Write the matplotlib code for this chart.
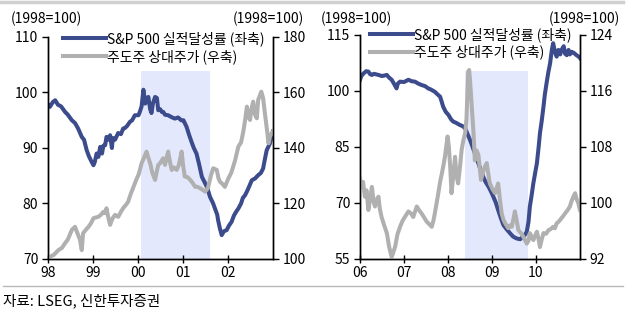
import matplotlib
matplotlib.use("Agg")
import matplotlib.pyplot as plt
from matplotlib.lines import Line2D

plt.rcParams['font.family'] = ['Noto Sans CJK KR', 'DejaVu Sans']
plt.rcParams['font.size'] = 10

# 1998~2002 (x: 연도, 1998=100)
eps98_x = [1998.01, 1998.04, 1998.11, 1998.16, 1998.22, 1998.29, 1998.38, 1998.44, 1998.53, 1998.60,
           1998.67, 1998.75, 1998.80, 1998.86, 1998.91, 1998.97, 1999.01, 1999.04, 1999.08, 1999.12,
           1999.16, 1999.20, 1999.23, 1999.27, 1999.30, 1999.34, 1999.38, 1999.42, 1999.44, 1999.49,
           1999.56, 1999.62, 1999.67, 1999.71, 1999.76, 1999.82, 1999.87, 1999.93, 2000.01, 2000.04,
           2000.08, 2000.12, 2000.16, 2000.19, 2000.23, 2000.27, 2000.30, 2000.33, 2000.38, 2000.42,
           2000.45, 2000.49, 2000.53, 2000.56, 2000.60, 2000.67, 2000.76, 2000.82, 2000.89, 2000.96,
           2001.01, 2001.08, 2001.13, 2001.19, 2001.24, 2001.30, 2001.36, 2001.42, 2001.47, 2001.53,
           2001.57, 2001.60, 2001.67, 2001.71, 2001.76, 2001.78, 2001.82, 2001.86, 2001.91, 2001.97,
           2002.02, 2002.08, 2002.13, 2002.18, 2002.23, 2002.29, 2002.33, 2002.38, 2002.44, 2002.53,
           2002.60, 2002.67, 2002.73, 2002.78, 2002.82, 2002.86, 2002.93, 2003.00]
eps98_y = [97.7, 97.4, 98.3, 98.6, 97.8, 97.5, 96.5, 96.0, 95.0, 94.5,
           93.5, 92.0, 91.5, 89.6, 88.5, 87.5, 86.9, 87.5, 89.0, 88.4,
           90.2, 89.0, 90.4, 90.5, 92.0, 91.5, 92.3, 90.0, 91.8, 91.5,
           92.7, 92.5, 93.5, 93.6, 94.0, 94.7, 95.0, 95.9, 95.9, 96.5,
           97.5, 100.5, 98.0, 99.0, 99.2, 97.0, 96.3, 98.0, 99.2, 99.0,
           96.8, 97.0, 96.5, 96.5, 96.0, 95.9, 95.5, 95.3, 95.5, 95.0,
           95.0, 93.8, 92.5, 91.1, 90.0, 89.0, 87.0, 84.8, 84.0, 83.0,
           82.0, 81.2, 80.0, 79.1, 78.0, 77.0, 75.5, 74.3, 75.0, 75.2,
           76.0, 76.7, 77.8, 78.5, 79.1, 80.0, 81.0, 81.5, 82.5, 84.2,
           84.5, 85.1, 85.5, 86.3, 88.0, 89.6, 90.8, 93.0]

lead98_x = [1998.04, 1998.13, 1998.23, 1998.31, 1998.38, 1998.44, 1998.53, 1998.60, 1998.67, 1998.71,
            1998.75, 1998.78, 1998.84, 1998.90, 1998.96, 1999.01, 1999.07, 1999.12, 1999.18, 1999.23,
            1999.27, 1999.30, 1999.34, 1999.38, 1999.43, 1999.49, 1999.56, 1999.62, 1999.67, 1999.73,
            1999.78, 1999.84, 1999.90, 1999.96, 2000.01, 2000.04, 2000.08, 2000.12, 2000.19, 2000.22,
            2000.27, 2000.32, 2000.38, 2000.41, 2000.45, 2000.49, 2000.56, 2000.60, 2000.67, 2000.71,
            2000.75, 2000.80, 2000.86, 2000.91, 2000.97, 2001.00, 2001.04, 2001.10, 2001.16, 2001.21,
            2001.27, 2001.32, 2001.38, 2001.43, 2001.49, 2001.53, 2001.56, 2001.62, 2001.67, 2001.75,
            2001.79, 2001.82, 2001.88, 2001.93, 2002.01, 2002.07, 2002.11, 2002.16, 2002.23, 2002.29,
            2002.34, 2002.38, 2002.42, 2002.46, 2002.49, 2002.52, 2002.56, 2002.60, 2002.64, 2002.67,
            2002.71, 2002.74, 2002.78, 2002.82, 2002.87, 2002.90, 2002.93, 2002.97, 2003.00]
lead98_y = [100.8, 101.5, 103.2, 104.0, 105.7, 107.0, 110.5, 111.6, 108.6, 107.0,
            103.2, 109.3, 110.5, 111.6, 113.0, 114.7, 115.0, 115.2, 116.0, 117.0,
            116.5, 118.3, 115.0, 112.3, 114.5, 115.9, 115.2, 117.0, 118.3, 119.5,
            120.6, 123.5, 126.0, 128.5, 130.3, 132.0, 134.5, 136.0, 138.7, 137.0,
            134.5, 131.0, 128.5, 131.0, 133.9, 134.5, 136.3, 133.9, 138.7, 135.0,
            132.1, 133.0, 132.1, 134.0, 138.7, 134.0, 129.7, 129.5, 128.5, 127.5,
            126.0, 126.0, 125.5, 125.0, 124.3, 125.0, 126.0, 130.0, 132.7, 132.1,
            129.0, 127.9, 127.0, 126.0, 129.1, 131.0, 133.0, 135.7, 140.5, 142.0,
            145.9, 150.0, 154.9, 151.0, 150.1, 154.0, 156.7, 152.0, 150.7, 157.3,
            159.0, 160.3, 158.0, 152.5, 146.0, 141.7, 144.0, 145.3, 146.0]

# 2006~2010
eps06_x = [2006.00, 2006.03, 2006.08, 2006.14, 2006.19, 2006.23, 2006.27, 2006.32, 2006.42, 2006.50,
           2006.61, 2006.66, 2006.72, 2006.77, 2006.83, 2006.86, 2006.91, 2007.00, 2007.10, 2007.18,
           2007.25, 2007.32, 2007.40, 2007.48, 2007.55, 2007.61, 2007.70, 2007.77, 2007.82, 2007.86,
           2007.89, 2007.95, 2008.01, 2008.07, 2008.12, 2008.18, 2008.27, 2008.33, 2008.39, 2008.44,
           2008.50, 2008.56, 2008.61, 2008.67, 2008.73, 2008.80, 2008.86, 2008.92, 2008.98, 2009.03,
           2009.09, 2009.14, 2009.20, 2009.26, 2009.33, 2009.41, 2009.48, 2009.56, 2009.64, 2009.71,
           2009.75, 2009.79, 2009.83, 2009.86, 2009.90, 2009.94, 2009.98, 2010.02, 2010.06, 2010.09,
           2010.13, 2010.17, 2010.20, 2010.24, 2010.28, 2010.32, 2010.36, 2010.39, 2010.43, 2010.47,
           2010.51, 2010.55, 2010.58, 2010.63, 2010.66, 2010.70, 2010.74, 2010.77, 2010.81, 2010.86,
           2010.92, 2010.97, 2011.00]
eps06_y = [103.0, 104.0, 104.7, 105.3, 105.2, 104.5, 104.3, 104.6, 104.3, 104.0,
           104.3, 103.6, 103.0, 102.0, 100.7, 102.0, 102.5, 102.4, 103.0, 102.6,
           102.5, 102.0, 101.6, 101.3, 100.7, 100.4, 99.8, 99.0, 98.5, 97.0,
           95.8, 94.4, 93.6, 92.4, 91.8, 91.5, 90.9, 90.6, 90.0, 88.6,
           86.9, 85.0, 83.3, 81.3, 79.3, 77.0, 75.5, 74.4, 73.0, 71.7,
           70.0, 68.1, 66.0, 64.1, 63.0, 61.9, 61.0, 60.5, 60.3, 61.0,
           61.5, 62.3, 65.0, 69.0, 72.0, 75.3, 78.0, 80.6, 85.0, 88.7,
           92.0, 95.8, 99.0, 102.1, 105.0, 107.4, 111.0, 112.8, 110.5, 109.2,
           111.0, 109.8, 111.0, 112.0, 110.0, 109.6, 111.0, 109.8, 110.5, 110.2,
           109.6, 109.2, 108.8]

lead06_x = [2006.00, 2006.04, 2006.07, 2006.11, 2006.15, 2006.19, 2006.23, 2006.27, 2006.31, 2006.34,
            2006.38, 2006.42, 2006.45, 2006.49, 2006.55, 2006.61, 2006.66, 2006.72, 2006.75, 2006.80,
            2006.85, 2006.91, 2006.97, 2007.02, 2007.10, 2007.16, 2007.21, 2007.29, 2007.34, 2007.40,
            2007.45, 2007.52, 2007.57, 2007.63, 2007.67, 2007.70, 2007.78, 2007.82, 2007.86, 2007.90,
            2007.93, 2007.97, 2007.99, 2008.02, 2008.05, 2008.08, 2008.13, 2008.16, 2008.19, 2008.23,
            2008.27, 2008.31, 2008.35, 2008.39, 2008.42, 2008.46, 2008.48, 2008.50, 2008.54, 2008.58,
            2008.61, 2008.65, 2008.69, 2008.73, 2008.75, 2008.80, 2008.84, 2008.88, 2008.92, 2008.95,
            2009.01, 2009.07, 2009.10, 2009.14, 2009.18, 2009.22, 2009.26, 2009.30, 2009.37, 2009.41,
            2009.45, 2009.49, 2009.52, 2009.56, 2009.60, 2009.66, 2009.71, 2009.75, 2009.79, 2009.83,
            2009.86, 2009.90, 2009.94, 2009.98, 2010.02, 2010.06, 2010.09, 2010.13, 2010.17, 2010.23,
            2010.28, 2010.34, 2010.39, 2010.43, 2010.47, 2010.51, 2010.55, 2010.60, 2010.66, 2010.72,
            2010.77, 2010.81, 2010.85, 2010.89, 2010.92, 2010.96, 2011.00]
lead06_y = [103.5, 102.3, 103.0, 100.9, 101.8, 99.0, 100.5, 102.3, 100.2, 99.5,
            100.5, 100.9, 99.2, 98.0, 96.8, 95.7, 93.8, 92.3, 92.8, 93.8,
            95.5, 96.6, 97.5, 98.0, 98.8, 98.5, 98.0, 99.5, 99.0, 98.5,
            98.0, 97.3, 97.0, 96.6, 97.5, 98.5, 101.4, 103.0, 104.2, 105.5,
            106.6, 108.5, 109.5, 108.0, 105.2, 101.4, 104.5, 106.6, 104.0, 102.8,
            105.0, 107.6, 109.0, 110.0, 112.0, 118.8, 119.0, 117.6, 113.8, 110.0,
            106.1, 107.5, 106.9, 104.5, 103.3, 104.5, 105.2, 105.7, 104.0, 102.8,
            102.0, 101.4, 102.0, 102.8, 100.5, 98.5, 97.6, 97.1, 96.4, 96.8,
            96.6, 97.8, 98.8, 97.5, 96.1, 95.7, 95.2, 94.7, 94.2, 94.6,
            95.7, 95.2, 94.7, 95.3, 95.9, 94.8, 93.7, 94.8, 95.7, 95.6,
            96.1, 96.3, 96.6, 96.4, 97.1, 97.3, 97.6, 98.0, 98.5, 99.0,
            99.5, 100.3, 100.9, 101.4, 100.6, 100.0, 99.0]

# 음영 구간 (시작, 끝, 상단값)
shade98 = (2000.07, 2001.60, 103.9)
shade06 = (2008.39, 2009.82, 105.4)

years98 = [1998, 1999, 2000, 2001, 2002]
labels98 = ['98', '99', '00', '01', '02']
years06 = [2006, 2007, 2008, 2009, 2010]
labels06 = ['06', '07', '08', '09', '10']

lab_eps = 'S&P 500 실적달성률 (좌축)'
lab_lead = '주도주 상대주가 (우축)'

BLUE = '#3b4b8c'
GREY = '#b0b0b0'
SHADE = '#e3e8fc'
LW = 2.9

fig = plt.figure(figsize=(6.4, 3.25), dpi=100)


def panel(rect, ex, ey, lx, ly, shade, years, labels, ylim_l, yt_l, ylim_r, yt_r, leg_xy):
    ax = fig.add_axes(rect)
    ax.fill_between([shade[0], shade[1]], ylim_l[0], shade[2], color=SHADE, lw=0, zorder=0)
    ax.plot(ex, ey, color=BLUE, lw=LW, solid_joinstyle='round')
    ax.set_xlim(years[0], years[-1] + 1)
    ax.set_ylim(*ylim_l)
    ax.set_yticks(yt_l)
    ax.set_xticks(years)
    ax.set_xticklabels(labels)
    ax2 = ax.twinx()
    ax2.plot(lx, ly, color=GREY, lw=LW, solid_joinstyle='round')
    ax2.set_ylim(*ylim_r)
    ax2.set_yticks(yt_r)
    for a in (ax, ax2):
        a.spines['top'].set_visible(False)
        for s in a.spines.values():
            s.set_linewidth(1.0)
        a.tick_params(axis='y', direction='out', length=4, width=1, labelsize=10, pad=3)
    ax.tick_params(axis='x', direction='inout', length=6, width=1, labelsize=10, pad=2)
    handles = [Line2D([], [], color=BLUE, lw=LW), Line2D([], [], color=GREY, lw=LW)]
    ax2.legend(handles, [lab_eps, lab_lead], loc='upper left', bbox_to_anchor=leg_xy,
               frameon=False, fontsize=10, handlelength=3.1, handletextpad=0.1,
               borderpad=0, borderaxespad=0, labelspacing=0.2)
    return ax, ax2


panel([48 / 640, 66 / 325, 225 / 640, 222 / 325], eps98_x, eps98_y, lead98_x, lead98_y,
      shade98, years98, labels98, (70, 110), [70, 80, 90, 100, 110],
      (100, 180), [100, 120, 140, 160, 180], (0.065, 1.025))
panel([360 / 640, 66 / 325, 220 / 640, 224 / 325], eps06_x, eps06_y, lead06_x, lead06_y,
      shade06, years06, labels06, (55, 115), [55, 70, 85, 100, 115],
      (92, 124), [92, 100, 108, 116, 124], (0.045, 1.035))

for xc in (46, 268, 356, 584):
    fig.text(xc / 640, 1 - 19 / 325, '(1998=100)', ha='center', va='center', fontsize=10)

fig.add_artist(Line2D([0, 623 / 640], [1 - 1.5 / 325, 1 - 1.5 / 325], color='#d0d0d0', lw=2.5))
fig.add_artist(Line2D([3 / 640, 623 / 640], [1 - 286 / 325, 1 - 286 / 325], color='#b8b8b8', lw=1))
fig.text(3 / 640, 1 - 301 / 325, '자료: LSEG, 신한투자증권', ha='left', va='center', fontsize=10.5)

fig.savefig('out.png', dpi=100)
